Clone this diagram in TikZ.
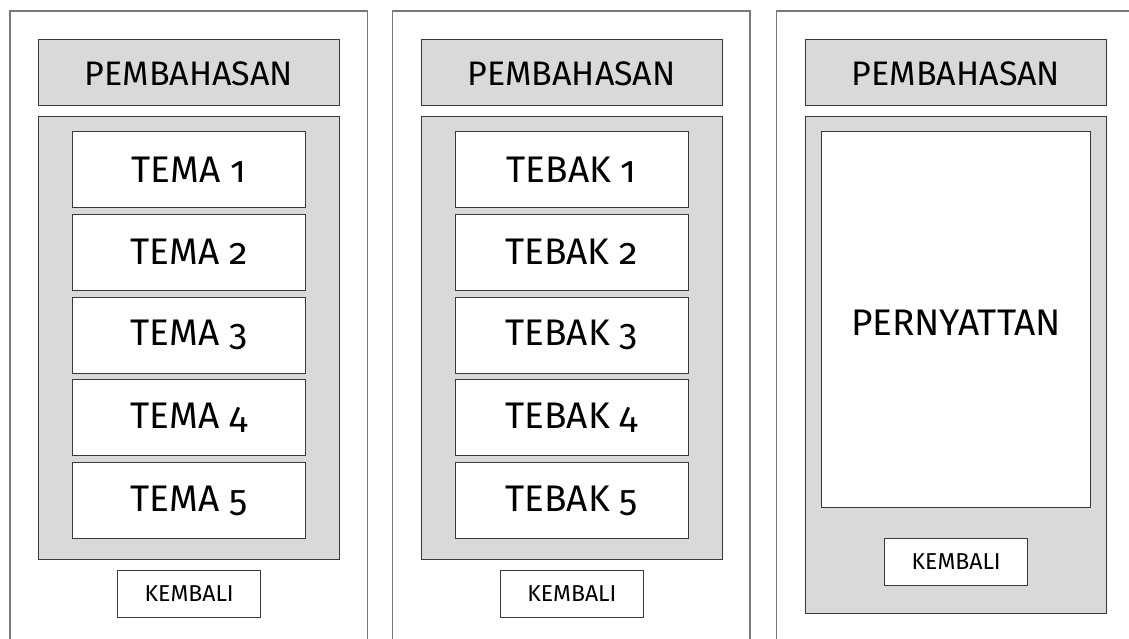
\documentclass[tikz,border=0pt]{standalone}
\usepackage{fontspec}
\setmainfont[Numbers=OldStyle]{Fira Sans}
\definecolor{boxgray}{HTML}{D9D9D9}
\definecolor{edgedark}{HTML}{3A3A3A}
\definecolor{framegray}{HTML}{7A7A7A}
\begin{document}
\begin{tikzpicture}[x=1pt,y=-1pt,
  frame/.style={draw=framegray,line width=1.1pt},
  graybox/.style={draw=edgedark,fill=boxgray,line width=1pt,inner sep=0,outer sep=0},
  whitebox/.style={draw=edgedark,fill=white,line width=1pt,inner sep=0,outer sep=0},
  head/.style={graybox,minimum width=301pt,minimum height=66pt},
  headtext/.style={font=\fontsize{34}{34}\selectfont},
  item/.style={whitebox,minimum width=233.4pt,minimum height=76pt,font=\fontsize{37}{37}\selectfont},
  back/.style={whitebox,minimum width=143pt,minimum height=47pt,font=\fontsize{23}{23}\selectfont}]
\useasboundingbox (0,0) rectangle (1129,639);
\clip (0,0) rectangle (1129,639);
% frames
\draw[frame] (10,660) -- (10,11) -- (367.3,11) -- (367.3,660);
\draw[frame] (392.7,660) -- (392.7,11) -- (750,11) -- (750,660);
\draw[frame] (776.7,660) -- (776.7,11) -- (1150,11);
% panel 1
\node[head] (h1) at (188.8,72.3) {};
\node[headtext] (h1t) at (188.8,73.5) {PEMBAHASAN};
\node[graybox,minimum width=301pt,minimum height=443pt] (c1) at (188.8,337.8) {};
\node[item] (t1) at (189,169.5) {TEMA 1};
\node[item] (t2) at (189,252.25) {TEMA 2};
\node[item] (t3) at (189,335) {TEMA 3};
\node[item] (t4) at (189,417.75) {TEMA 4};
\node[item] (t5) at (189,500.5) {TEMA 5};
\node[back] (k1) at (189.2,593.8) {KEMBALI};
% panel 2
\node[head] (h2) at (571.5,72.3) {};
\node[headtext] (h2t) at (571.5,73.5) {PEMBAHASAN};
\node[graybox,minimum width=301pt,minimum height=443pt] (c2) at (571.5,337.8) {};
\node[item] (b1) at (571.7,169.5) {TEBAK 1};
\node[item] (b2) at (571.7,252.25) {TEBAK 2};
\node[item] (b3) at (571.7,335) {TEBAK 3};
\node[item] (b4) at (571.7,417.75) {TEBAK 4};
\node[item] (b5) at (571.7,500.5) {TEBAK 5};
\node[back] (k2) at (571.9,593.8) {KEMBALI};
% panel 3
\node[head] (h3) at (956,72.3) {};
\node[headtext] (h3t) at (956,73.5) {PEMBAHASAN};
\node[graybox,minimum width=301.4pt,minimum height=497pt] (c3) at (956,364.8) {};
\node[whitebox,minimum width=269.7pt,minimum height=375.6pt] (p3) at (955.85,319.5) {};
\node[font=\fontsize{37}{37}\selectfont] (pt) at (955.85,322.5) {PERNYATTAN};
\node[back] (k3) at (956.2,561.8) {KEMBALI};
\end{tikzpicture}
\end{document}
